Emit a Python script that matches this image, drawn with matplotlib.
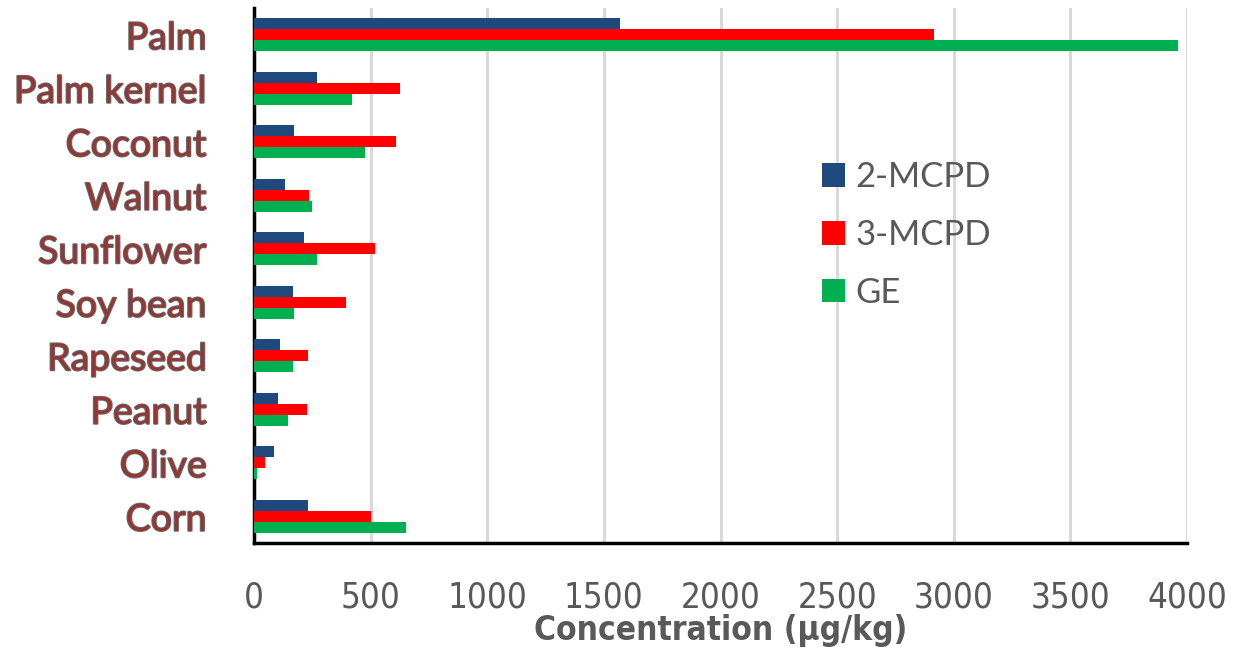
import matplotlib
matplotlib.use("Agg")
import matplotlib.pyplot as plt
import matplotlib.patheffects as pe
import numpy as np

oils = ["Palm", "Palm kernel", "Coconut", "Walnut", "Sunflower",
        "Soy bean", "Rapeseed", "Peanut", "Olive", "Corn"]
mcpd2 = [1567, 270, 170, 133, 215, 167, 112, 102, 86, 233]
mcpd3 = [2914, 625, 609, 236, 519, 395, 232, 229, 47, 502]
ge = [3962, 422, 476, 249, 270, 172, 167, 147, 13, 651]
series = [("2-MCPD", mcpd2, "#1F497D"),
          ("3-MCPD", mcpd3, "#FF0000"),
          ("GE", ge, "#00B050")]
xticks = [0, 500, 1000, 1500, 2000, 2500, 3000, 3500, 4000]

fig = plt.figure(figsize=(12.33, 6.49), dpi=100)
ax = fig.add_axes([0.206, 0.1633, 0.7567, 0.8244])

y = np.arange(len(oils))
h = 0.205
for i, (name, vals, col) in enumerate(series):
    ax.barh(y + (i - 1) * h, vals, height=h, color=col, label=name, zorder=3)

ax.set_ylim(len(oils) - 0.5, -0.5)
ax.set_xlim(0, 4000)
ax.set_xticks(xticks)
ax.grid(axis="x", color="#D9D9D9", linewidth=2.2, zorder=0)
ax.set_axisbelow(True)

for s in ["top", "right"]:
    ax.spines[s].set_visible(False)
ax.spines["left"].set_linewidth(2.5)
ax.spines["bottom"].set_linewidth(2.5)

ax.tick_params(axis="x", length=0, pad=27, labelcolor="#595959")
for lab in ax.get_xticklabels():
    lab.set_family(["DejaVu Sans"])
    lab.set_stretch("condensed")
    lab.set_fontsize(25)

ax.set_yticks(y)
ax.set_yticklabels(oils)
ax.tick_params(axis="y", length=0, pad=34)
for lab in ax.get_yticklabels():
    lab.set_family(["Lato", "DejaVu Sans"])
    lab.set_fontsize(27)
    lab.set_color("#943634")
    lab.set_path_effects([pe.withStroke(linewidth=1.4, foreground="#6b6b6b")])

ax.set_xlabel("Concentration (µg/kg)", fontsize=24, fontweight="bold",
              color="#595959", family=["DejaVu Sans"], fontstretch="condensed")
ax.xaxis.set_label_coords(0.5, -0.133)

leg = ax.legend(loc="upper left", bbox_to_anchor=(0.575, 0.772), frameon=False,
                handlelength=0.68, handleheight=0.68, handletextpad=0.28,
                labelspacing=0.74, prop={"family": ["Lato", "DejaVu Sans"], "size": 25})
for t in leg.get_texts():
    t.set_color("#595959")

fig.savefig("out.png", dpi=100)
